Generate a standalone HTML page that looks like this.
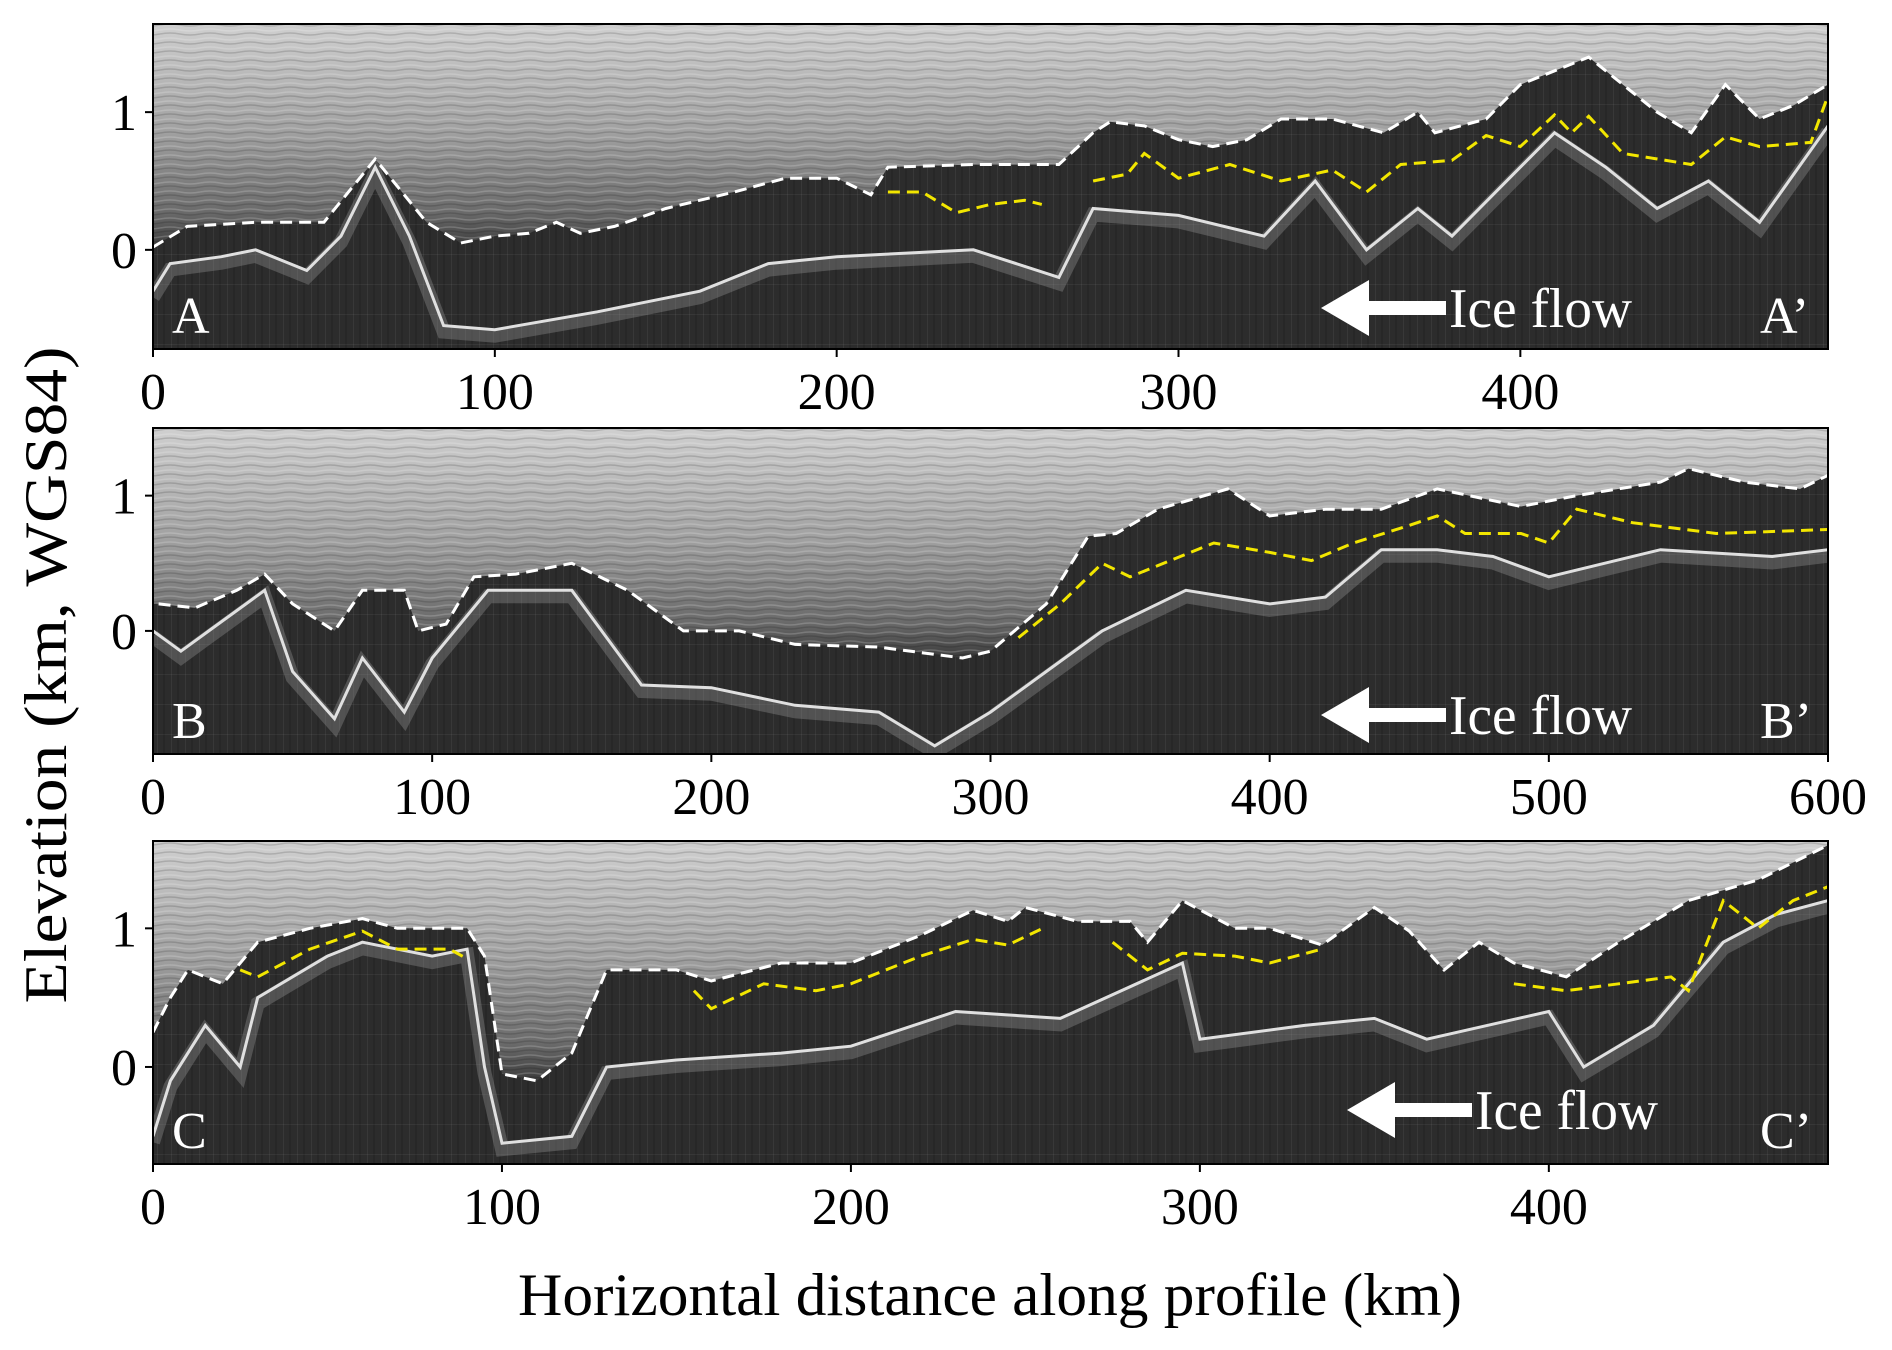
<!DOCTYPE html>
<html><head><meta charset="utf-8"><style>
html,body{margin:0;padding:0;background:#fff;}
svg{display:block;font-family:"Liberation Serif",serif;}
</style></head><body>
<svg id="fig" width="1892" height="1350" viewBox="0 0 1892 1350">
<defs>
<linearGradient id="iceGrad" x1="0" y1="0" x2="0" y2="1">
<stop offset="0" stop-color="#d2d2d2"/><stop offset="0.5" stop-color="#a0a0a0"/><stop offset="0.85" stop-color="#6a6a6a"/><stop offset="1" stop-color="#3c3c3c"/>
</linearGradient>
<pattern id="layers" width="40" height="9" patternUnits="userSpaceOnUse">
<rect width="40" height="9" fill="none"/><path d="M0 3 Q10 1 20 3 T40 3" stroke="#ffffff" stroke-opacity="0.18" stroke-width="1.5" fill="none"/><path d="M0 7 Q10 5 20 7 T40 7" stroke="#000" stroke-opacity="0.15" stroke-width="1.5" fill="none"/>
</pattern>
<pattern id="streaks" width="14" height="30" patternUnits="userSpaceOnUse">
<rect x="3" width="1" height="30" fill="#fff" fill-opacity="0.06"/><rect x="9" width="2" height="30" fill="#000" fill-opacity="0.12"/><rect y="14" width="14" height="1" fill="#fff" fill-opacity="0.05"/>
</pattern>
</defs>
<g id="panels"></g>
<text x="0" y="0" font-size="60" text-anchor="middle" textLength="657" lengthAdjust="spacingAndGlyphs" transform="translate(66 675) rotate(-90)">Elevation (km, WGS84)</text>
<text x="990" y="1315" font-size="60" text-anchor="middle" textLength="944" lengthAdjust="spacingAndGlyphs">Horizontal distance along profile (km)</text>
</svg>
<script>
// Panel A data
const aWhiteX=[0,10,30,50,65,80,90,100,110,118,125,135,150,170,185,200,210,215,240,265,275,280,290,300,310,320,330,345,360,370,375,390,400,420,430,440,450,460,470,480,490];
const aWhiteY=[0.02,0.17,0.2,0.2,0.66,0.2,0.05,0.1,0.12,0.2,0.12,0.17,0.3,0.42,0.52,0.52,0.4,0.6,0.62,0.62,0.85,0.93,0.9,0.8,0.75,0.8,0.95,0.95,0.85,1.0,0.85,0.95,1.2,1.4,1.2,1.0,0.85,1.2,0.95,1.05,1.2];
const aYel1X=[215,225,235,245,255,260];
const aYel1Y=[0.42,0.42,0.27,0.33,0.36,0.33];
const aYel2X=[275,285,290,300,315,330,345,355,365,380,390,400,410,415,420,430,450,460,470,485,490];
const aYel2Y=[0.5,0.55,0.7,0.52,0.62,0.5,0.58,0.42,0.62,0.65,0.83,0.75,0.98,0.85,0.97,0.7,0.62,0.82,0.75,0.78,1.12];
const aBedX=[0,5,20,30,45,55,65,75,85,100,130,160,180,200,240,265,275,300,325,340,355,370,380,400,410,425,440,455,470,490];
const aBedY=[-0.3,-0.1,-0.05,0,-0.15,0.1,0.6,0.1,-0.55,-0.58,-0.45,-0.3,-0.1,-0.05,0,-0.2,0.3,0.25,0.1,0.5,0,0.3,0.1,0.6,0.85,0.6,0.3,0.5,0.2,0.9];
const aTicks=[0,100,200,300,400];
// Panel B data
const bWhiteX=[2,15,30,40,50,65,75,90,95,105,115,130,150,170,190,210,230,260,290,300,320,335,345,360,385,400,420,440,460,490,510,540,550,570,590,600];
const bWhiteY=[0.2,0.17,0.3,0.42,0.2,0,0.3,0.3,0,0.05,0.4,0.42,0.5,0.3,0,0,-0.1,-0.12,-0.2,-0.15,0.2,0.7,0.72,0.9,1.05,0.85,0.9,0.9,1.05,0.92,1.0,1.1,1.2,1.1,1.05,1.15];
const bYelX=[310,325,340,350,380,400,415,430,450,460,470,490,500,510,530,560,600];
const bYelY=[-0.05,0.2,0.5,0.4,0.65,0.58,0.52,0.65,0.78,0.85,0.72,0.72,0.65,0.9,0.8,0.72,0.75];
const bBedX=[0,10,20,40,50,65,75,90,100,120,150,175,200,230,260,280,300,320,340,370,400,420,440,460,480,500,540,580,600];
const bBedY=[0,-0.15,0,0.3,-0.3,-0.65,-0.2,-0.6,-0.2,0.3,0.3,-0.4,-0.42,-0.55,-0.6,-0.85,-0.6,-0.3,0,0.3,0.2,0.25,0.6,0.6,0.55,0.4,0.6,0.55,0.6];
const bTicks=[0,100,200,300,400,500,600];
// Panel C data
const cWhiteX=[0,5,10,20,30,45,60,70,90,95,100,110,120,130,150,160,180,200,220,235,245,250,265,280,285,295,310,320,335,350,360,370,380,390,405,420,440,460,480];
const cWhiteY=[0.25,0.5,0.7,0.6,0.9,1.0,1.07,1.0,1.0,0.8,-0.05,-0.1,0.1,0.7,0.7,0.62,0.75,0.75,0.95,1.13,1.05,1.15,1.05,1.05,0.9,1.2,1.0,1.0,0.88,1.15,0.98,0.7,0.9,0.75,0.65,0.9,1.2,1.35,1.6];
const cYel1X=[25,30,45,60,70,85,90];
const cYel1Y=[0.7,0.65,0.85,0.98,0.85,0.85,0.78];
const cYel2X=[155,160,175,190,200,220,235,245,255];
const cYel2Y=[0.55,0.42,0.6,0.55,0.6,0.8,0.92,0.88,1.0];
const cYel3X=[275,285,295,310,320,335];
const cYel3Y=[0.9,0.7,0.82,0.8,0.75,0.85];
const cYel4X=[390,405,420,435,440,450,460,470,480];
const cYel4Y=[0.6,0.55,0.6,0.65,0.55,1.2,1.0,1.2,1.3];
const cBedX=[0,5,15,25,30,50,60,80,90,95,100,120,130,150,180,200,230,260,295,300,330,350,365,400,410,430,450,465,480];
const cBedY=[-0.5,-0.1,0.3,0,0.5,0.8,0.9,0.8,0.85,0,-0.55,-0.5,0,0.05,0.1,0.15,0.4,0.35,0.75,0.2,0.3,0.35,0.2,0.4,0,0.3,0.9,1.1,1.2];
const cTicks=[0,100,200,300,400];

const NS="http://www.w3.org/2000/svg";
const root=document.getElementById('panels');
function mk(tag,attrs,parent){const e=document.createElementNS(NS,tag);for(const k in attrs)e.setAttribute(k,attrs[k]);parent.appendChild(e);return e;}
const L=153,R=1828;
function drawPanel(p){
  const sx=v=>L+(v/p.xmax)*(R-L);
  const sy=v=>p.top+(p.ymax-v)/(p.ymax-p.ymin)*(p.bottom-p.top);
  const g=mk('g',{},root);
  
  
  const cid='clip'+p.name;
  const cp=mk('clipPath',{id:cid},g);
  mk('rect',{x:L,y:p.top,width:R-L,height:p.bottom-p.top},cp);
  const inner=mk('g',{'clip-path':'url(#'+cid+')'},g);
  mk('rect',{x:L,y:p.top,width:R-L,height:p.bottom-p.top,fill:'#2c2c2c'},inner);
  mk('rect',{x:L,y:p.top,width:R-L,height:p.bottom-p.top,fill:'url(#streaks)'},inner);
  const pts=(xs,ys)=>xs.map((x,i)=>sx(x).toFixed(1)+','+sy(ys[i]).toFixed(1));
  const wp=pts(p.wx,p.wy);
  const icePts=[sx(-5)+','+(p.top-5)].concat([sx(-5)+','+sy(p.wy[0])],wp,[sx(p.xmax+5)+','+sy(p.wy[p.wy.length-1]),sx(p.xmax+5)+','+(p.top-5)]);
  const ice=mk('polygon',{points:icePts.join(' '),fill:'url(#iceGrad)'},inner);
  
  
  mk('polygon',{points:icePts.join(' '),fill:'url(#layers)'},inner);
  const bp=pts(p.bx,p.by);
  mk('polyline',{points:bp.join(' '),fill:'none',stroke:'#9a9a9a','stroke-width':14,'stroke-opacity':0.35,transform:'translate(0,6)'},inner);
  const bed=mk('polyline',{points:bp.join(' '),fill:'none',stroke:'#e0e0e0','stroke-width':3}, inner);
  
  
  const wl=mk('polyline',{points:wp.join(' '),fill:'none',stroke:'#fff','stroke-width':3,'stroke-dasharray':'12 7'},inner);
  
  
  p.yel.forEach(s=>{
    const yl=mk('polyline',{points:pts(s[0],s[1]).join(' '),fill:'none',stroke:'#f2e600','stroke-width':3,'stroke-dasharray':'12 7'},inner);
    
    
  });
  const ay=p.arrowY;
  const ar=mk('polygon',{points:[p.arrowX,ay, p.arrowX+48,ay-28, p.arrowX+48,ay-7, p.arrowX+125,ay-7, p.arrowX+125,ay+7, p.arrowX+48,ay+7, p.arrowX+48,ay+28].join(' '),fill:'#fff'},inner);
  
  
  const t=mk('text',{x:p.arrowX+128,y:ay+19,'font-size':56,fill:'#fff',textLength:183,lengthAdjust:'spacingAndGlyphs'},inner);t.textContent='Ice flow';
  
  
  const l1=mk('text',{x:172,y:p.bottom-16,'font-size':52,fill:'#fff'},inner);l1.textContent=p.name;
  
  
  const l2=mk('text',{x:1760,y:p.bottom-16,'font-size':52,fill:'#fff'},inner);l2.textContent=p.name+'’';
  
  
  mk('rect',{x:L,y:p.top,width:R-L,height:p.bottom-p.top,fill:'none',stroke:'#000','stroke-width':2},g);
  p.ticks.forEach(v=>{
    mk('line',{x1:sx(v),x2:sx(v),y1:p.bottom,y2:p.bottom+8,stroke:'#000','stroke-width':2},g);
    const tx=mk('text',{x:sx(v),y:p.bottom+60,'font-size':52,'text-anchor':'middle'},g);tx.textContent=v;
    
    
  });
  [0,1].forEach(v=>{
    mk('line',{x1:L-8,x2:L,y1:sy(v),y2:sy(v),stroke:'#000','stroke-width':2},g);
    const ty=mk('text',{x:L-16,y:sy(v)+18,'font-size':52,'text-anchor':'end'},g);ty.textContent=v;
    
    
  });
}
drawPanel({name:'A',top:24,bottom:349,ymax:1.64,ymin:-0.72,xmax:490,wx:aWhiteX,wy:aWhiteY,bx:aBedX,by:aBedY,yel:[[aYel1X,aYel1Y],[aYel2X,aYel2Y]],ticks:aTicks,arrowX:1321,arrowY:308});
drawPanel({name:'B',top:428,bottom:754,ymax:1.5,ymin:-0.91,xmax:600,wx:bWhiteX,wy:bWhiteY,bx:bBedX,by:bBedY,yel:[[bYelX,bYelY]],ticks:bTicks,arrowX:1321,arrowY:715});
drawPanel({name:'C',top:841,bottom:1164,ymax:1.63,ymin:-0.70,xmax:480,wx:cWhiteX,wy:cWhiteY,bx:cBedX,by:cBedY,yel:[[cYel1X,cYel1Y],[cYel2X,cYel2Y],[cYel3X,cYel3Y],[cYel4X,cYel4Y]],ticks:cTicks,arrowX:1347,arrowY:1110});
</script>
</body></html>
